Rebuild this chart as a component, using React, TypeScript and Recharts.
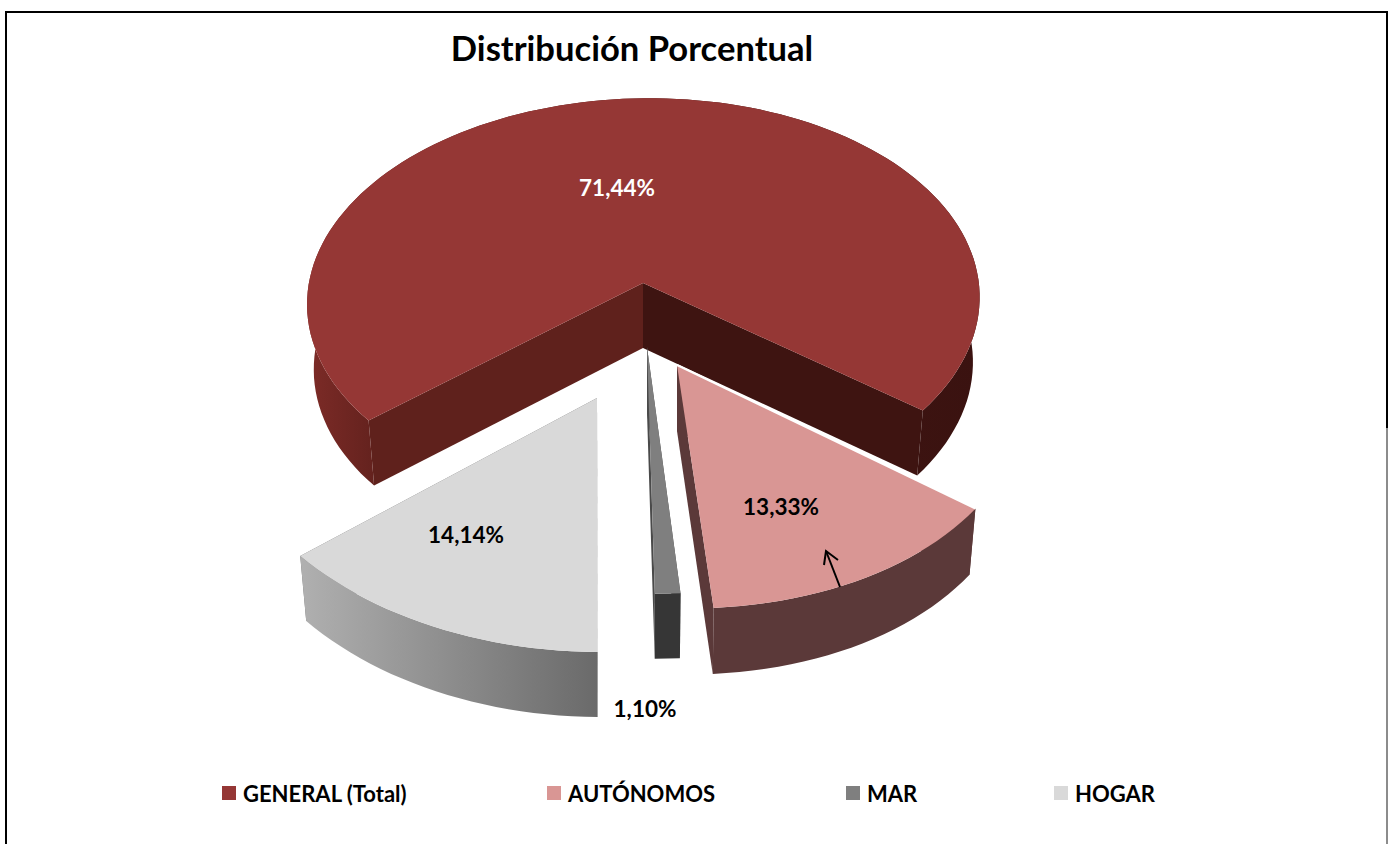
import { PieChart, Pie, Legend } from 'recharts';

const CATEGORIES = ['GENERAL (Total)', 'AUTÓNOMOS', 'MAR', 'HOGAR'];
const SHARES = [71.44, 13.33, 1.1, 14.14];
const SHARE_LABELS = ['71,44%', '13,33%', '1,10%', '14,14%'];
const SWATCHES = ['#953735', '#d99694', '#7f7f7f', '#d9d9d9'];

const FONT = 'Lato, "Open Sans", sans-serif';
const RIM_SHRINK = 0.98;

// per slice projection of the flat pie: apex offset from the pie centre, radii, perspective, shear, tilt
const SLICE_VIEW: Record<string, any> = {
  'GENERAL (Total)': { dx: 0, dy: 0, rx: 335, ry: 201, k: 0.088, h: 0.02, tilt: -0.018, depth: 65, rim: 'url(#generalRim)', wallL: '#5f211c', wallR: '#3e1411' },
  'AUTÓNOMOS': { dx: 34, dy: 82, rx: 342, ry: 212, k: 0.129, h: 0.053, tilt: 0, depth: 66, rim: '#5b3939', wallL: '#5b3939', wallR: '#5b3939', edge: true },
  'MAR': { dx: 4, dy: 64, rx: 335, ry: 222, k: 0.1, h: 0.045, tilt: 0, depth: 65, rim: '#363636', wallL: '#4a4a4a', wallR: '#4a4a4a' },
  'HOGAR': { dx: -46, dy: 115, rx: 381, ry: 252, k: 0.008, h: 0.0157, tilt: 0, depth: 65, rim: 'url(#hogarRim)', wallL: '#6c6c6c', wallR: '#6c6c6c' },
};

const LABEL_SPOTS = [
  { dx: -26, dy: -96, fill: '#ffffff' },
  { dx: 138, dy: 223, fill: '#000000' },
  { dx: 2, dy: 425, fill: '#000000' },
  { dx: -177, dy: 251, fill: '#000000' },
];
const LEGEND_LEFT = [222, 547, 846, 1054];

const rows = CATEGORIES.map((name, i) => ({ name, value: SHARES[i], fill: SWATCHES[i] }));

function project(view: any, clockDeg: number) {
  const t = (clockDeg * Math.PI) / 180;
  const u = Math.sin(t);
  const v = -Math.cos(t);
  const s = 1 / (1 - view.k * v);
  const y = view.ry * v * s;
  const x = view.rx * u * s + view.h * y;
  return { x, y: y + view.tilt * x };
}

const toPath = (pts: { x: number; y: number }[]) =>
  pts.map((p, i) => `${i ? 'L' : 'M'}${p.x.toFixed(1)},${p.y.toFixed(1)}`).join(' ') + ' Z';

function Wedge3D(props: any) {
  const { cx, cy, startAngle, endAngle, name, fill } = props;
  const view = SLICE_VIEW[name];
  if (!view) return null;
  const ax = cx + view.dx;
  const ay = cy + view.dy;
  const t0 = 90 - startAngle;
  const t1 = 90 - endAngle;
  const n = Math.max(2, Math.ceil((t1 - t0) / 2));
  const arc = Array.from({ length: n + 1 }, (_, i) => project(view, t0 + ((t1 - t0) * i) / n));

  const top = arc.map((p) => ({ x: ax + p.x, y: ay + p.y }));
  const low = arc.map((p) => ({ x: ax + p.x * RIM_SHRINK, y: ay + p.y + view.depth }));
  const apex = { x: ax, y: ay };
  const apexLow = { x: ax, y: ay + view.depth };

  return (
    <g>
      <path d={toPath([apex, top[0], low[0], apexLow])} fill={view.wallL} />
      <path d={toPath([apex, top[n], low[n], apexLow])} fill={view.wallR} />
      <path d={toPath([...top, ...[...low].reverse()])} fill={view.rim} />
      <path d={toPath([apex, ...top])} fill={fill} />
      {view.edge && <line x1={apex.x} y1={apex.y} x2={top[0].x} y2={top[0].y} stroke="#ffffff" strokeWidth={2} />}
    </g>
  );
}

function SliceLabel(props: any) {
  const { cx, cy, index } = props;
  const spot = LABEL_SPOTS[index];
  return (
    <g>
      <text x={cx + spot.dx} y={cy + spot.dy} fill={spot.fill} textAnchor="middle" dominantBaseline="central"
        fontFamily={FONT} fontWeight={700} fontSize={22.5}>
        {SHARE_LABELS[index]}
      </text>
      {index === 1 && (
        <g stroke="#000" strokeWidth={2} fill="none">
          <path d="M840,587 L826,551" />
          <path d="M824,565 L826,551 L838,560" />
        </g>
      )}
    </g>
  );
}

function LegendRow({ payload }: any) {
  return (
    <div style={{ position: 'relative', height: 40, fontFamily: FONT, fontWeight: 700, fontSize: 22, color: '#000' }}>
      {(payload || []).map((entry: any, i: number) => (
        <div key={entry.value} style={{ position: 'absolute', left: LEGEND_LEFT[i], top: 0, height: 40, display: 'flex', alignItems: 'center', whiteSpace: 'nowrap' }}>
          <span style={{ width: 14, height: 14, background: SWATCHES[i], marginRight: 7, display: 'inline-block' }} />
          {entry.value}
        </div>
      ))}
    </div>
  );
}

export default function App() {
  return (
    <div style={{ position: 'absolute', left: 0, top: 0, width: 1392, height: 844, overflow: 'hidden', background: '#fff' }}>
      <PieChart width={1392} height={844} margin={{ top: 0, right: 0, bottom: 0, left: 0 }}>
        <defs>
          <linearGradient id="generalRim" x1="0" y1="0" x2="1" y2="0">
            <stop offset="0" stopColor="#7d2b27" />
            <stop offset="0.1" stopColor="#64221e" />
            <stop offset="0.8" stopColor="#3e1411" />
            <stop offset="1" stopColor="#3a1210" />
          </linearGradient>
          <linearGradient id="hogarRim" x1="0" y1="0" x2="1" y2="0">
            <stop offset="0" stopColor="#b0b0b0" />
            <stop offset="1" stopColor="#6a6a6a" />
          </linearGradient>
        </defs>
        <path d="M6,844 V12 H1387 V428" fill="none" stroke="#000" strokeWidth={2} />
        <path d="M1387,428 V844" fill="none" stroke="#8c8c8c" strokeWidth={2} />
        <text x={632} y={47} textAnchor="middle" dominantBaseline="central" fontFamily={FONT} fontWeight={700} fontSize={34.6} fill="#000">
          Distribución Porcentual
        </text>
        <Pie
          data={rows}
          dataKey="value"
          nameKey="name"
          cx={643}
          cy={283}
          outerRadius={200}
          startAngle={218.6}
          endAngle={-141.4}
          stroke="none"
          isAnimationActive={false}
          shape={Wedge3D}
          label={SliceLabel}
          labelLine={false}
        />
        <Legend content={<LegendRow />} itemSorter={null} wrapperStyle={{ left: 0, top: 773, width: 1392 }} />
      </PieChart>
    </div>
  );
}
